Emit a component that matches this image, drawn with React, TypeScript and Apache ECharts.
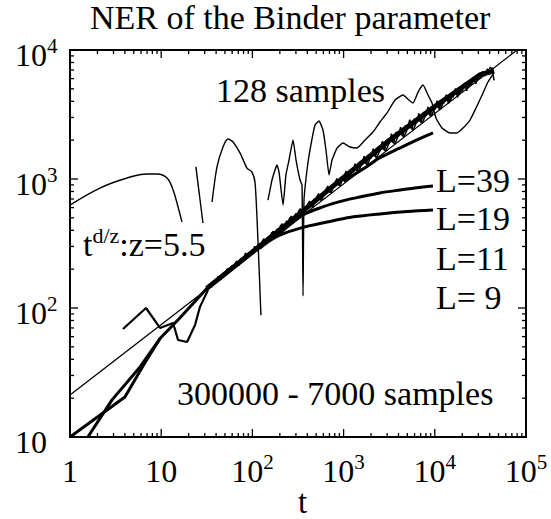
import React, { useEffect, useRef } from 'react';
import * as echarts from 'echarts';

const FONT = '"Liberation Serif", "Times New Roman", serif';

// ---- axes ----
const X_MIN = 1;
const X_MAX = 100000;
const Y_MIN = 10;
const Y_MAX = 10000;

const xTickValues = [1, 10, 100, 1000, 10000, 100000];
const xTickBase = ['1', '10', '10', '10', '10', '10'];
const xTickExp = ['', '', '2', '3', '4', '5'];
const yTickValues = [10, 100, 1000, 10000];
const yTickBase = ['10', '10', '10', '10'];
const yTickExp = ['', '2', '3', '4'];
const xAxisName = 't';

const xMinorTicks = [2, 3, 4, 5, 6, 7, 8, 9, 20, 30, 40, 50, 60, 70, 80, 90, 200, 300, 400, 500, 600, 700, 800, 900,
  2000, 3000, 4000, 5000, 6000, 7000, 8000, 9000, 20000, 30000, 40000, 50000, 60000, 70000, 80000, 90000];
const yMinorTicks = [20, 30, 40, 50, 60, 70, 80, 90, 200, 300, 400, 500, 600, 700, 800, 900,
  2000, 3000, 4000, 5000, 6000, 7000, 8000, 9000];

// ---- series data [t, value] ----
const powerLaw = [[1, 21.2], [100000, 11300]];

const thickLowA = [[1, 10], [4, 20.4], [6.6, 37.5], [9.7, 58], [16.1, 84], [31.8, 142]];
const thickLowB = [[1.57, 10], [2.89, 19.4], [5.86, 34.9], [9.7, 58]];
const zigzag = [[3.81, 68.7], [6.81, 100], [9.7, 70], [13.5, 76.6], [15.3, 56.5], [19.2, 54.5], [23.5, 73.8], [26.6, 102], [32.6, 138]];

const bandCore = [[31.6, 142], [100, 272], [316, 525], [1000, 1030], [3162, 1990], [10000, 3650], [31623, 6450], [44668, 6900]];

const bandNoise = [
  [31.6, 139], [33.5, 151], [35.5, 144], [37.6, 162], [39.8, 158], [42.2, 176], [44.7, 165], [47.3, 186], [50.1, 183], [53.1, 202],
  [56.2, 189], [59.6, 213], [63.1, 209], [66.8, 231], [70.8, 212], [75.0, 243], [79.4, 235], [84.1, 267], [89.1, 245], [94.4, 273],
  [100, 269], [106, 301], [112, 275], [119, 316], [126, 308], [133, 345], [141, 315], [150, 358], [158, 352], [168, 394],
  [178, 361], [188, 412], [200, 395], [211, 451], [224, 413], [237, 472], [251, 453], [266, 516], [282, 473], [299, 540],
  [316, 518], [335, 590], [355, 530], [376, 607], [398, 593], [422, 675], [447, 608], [473, 700], [501, 666], [531, 771],
  [562, 681], [596, 787], [631, 762], [668, 882], [708, 788], [750, 907], [794, 872], [841, 1008], [891, 885], [944, 1038],
  [1000, 979], [1059, 1152], [1122, 1013], [1189, 1186], [1259, 1120], [1334, 1316], [1413, 1160], [1496, 1357], [1585, 1282], [1679, 1504],
  [1778, 1302], [1884, 1550], [1995, 1441], [2113, 1720], [2239, 1491], [2371, 1773], [2512, 1648], [2661, 1966], [2818, 1674], [2985, 2026],
  [3162, 1885], [3350, 2247], [3548, 1916], [3758, 2316], [3981, 2118], [4217, 2526], [4467, 2152], [4732, 2605], [5012, 2423], [5309, 2887],
  [5623, 2463], [5957, 2929], [6310, 2723], [6683, 3221], [7079, 2740], [7499, 3293], [7943, 3059], [8414, 3623], [8913, 3075], [9441, 3672],
  [10000, 3436], [10593, 4042], [11220, 3453], [11885, 4092], [12589, 3858], [13335, 4507], [14125, 3837], [14962, 4559], [15849, 4292], [16788, 5024],
  [17783, 4306], [18836, 5078], [19953, 4773], [21135, 5552], [22387, 4833], [23714, 5655], [25119, 5358], [26607, 6131], [28184, 5480], [29854, 6354],
  [31623, 6014], [33497, 6827], [35481, 6276], [37584, 7137], [39811, 6478], [42170, 7317], [44668, 5809],
];

const bandNoise2 = [
  [103, 290], [115.5, 282], [130, 335], [145, 322], [163, 385], [183, 366], [205, 440], [230, 415], [259, 505], [290, 470],
  [325, 575], [365, 533], [410, 650], [460, 605], [516, 745], [579, 690], [649, 850], [729, 780], [818, 965], [917, 890],
  [1029, 1090], [1155, 1000], [1296, 1240], [1454, 1140], [1631, 1390], [1830, 1290], [2054, 1580], [2304, 1460], [2585, 1760], [2901, 1650],
  [3255, 2000], [3652, 1870], [4097, 2280], [4597, 2120], [5158, 2580], [5788, 2400], [6494, 2900], [7286, 2720], [8175, 3300], [9173, 3080],
  [10292, 3750], [11548, 3480], [12957, 4250], [14538, 3950], [16312, 4700], [18303, 4480], [20535, 5200], [23041, 5050], [25852, 5900], [29007, 5750],
  [32546, 6700], [36517, 6550], [40973, 7400],
];

const curveA = [[1000, 960], [1400, 1120], [1806, 1250], [2500, 1460], [4160, 1740], [6300, 2000], [9550, 2276]];
const curveL39 = [[200, 380], [359, 526], [600, 610], [1000, 680], [1514, 725], [2500, 780], [4160, 822], [6300, 855], [9550, 883]];
const curveL19 = [[120, 290], [156, 333], [200, 368], [350, 420], [657, 464], [1200, 505], [2500, 536], [5000, 560], [9550, 575]];

const s128a = [[1, 628], [2.13, 851], [4.22, 1018], [6.98, 1094], [9.0, 1094], [11.6, 1018], [13.5, 822], [15.3, 607], [16.9, 464]];
const s128b = [[24, 1240], [28.7, 456]];
const s128c = [[36.1, 663], [40.9, 1240], [47.6, 1770], [54, 2042], [61.3, 1936], [73.1, 1592], [87.2, 1216], [99, 1132], [107, 931], [115, 336], [124, 88]];
const s128d = [
  [148, 687], [156, 822], [164, 982], [177, 1175], [186, 1285], [196, 1132], [217, 628], [233, 1075], [252, 1403], [279, 2005],
  [301, 1403], [333, 982], [350, 898], [359, 124], [368, 687], [397, 1175], [428, 1679], [486, 2624], [537, 2818], [594, 2399],
  [641, 1679], [692, 1075], [747, 1403], [847, 1738], [985, 1901], [1175, 1770], [1403, 1738], [1718, 2005], [2100, 2312], [2507, 2768],
  [2993, 3251], [3664, 4093], [4480, 4480], [5210, 4093], [5770, 3883], [6550, 4722], [7430, 5357], [8420, 4480], [9320, 3883], [10300, 2974],
  [12000, 2483], [14700, 2273], [17500, 2273], [20400, 2483], [24300, 2864], [28300, 3550], [33000, 4480], [38300, 5650], [44600, 6640],
];

const titleText = 'NER of the Binder parameter';
const labels = [
  { text: '128 samples', x: 216, y: 90 },
  { text: 'L=39', x: 436, y: 180 },
  { text: 'L=19', x: 436, y: 218 },
  { text: 'L=11', x: 436, y: 258 },
  { text: 'L= 9', x: 436, y: 297 },
  { text: '300000 - 7000 samples', x: 177, y: 393 },
];

function labelFormatter(values: number[], bases: string[], exps: string[]) {
  return (v: number) => {
    const i = values.findIndex((t) => Math.abs(Math.log10(t) - Math.log10(v)) < 1e-6);
    if (i < 0) return '';
    return exps[i] ? `{b|${bases[i]}}{s|${exps[i]}}` : `{b|${bases[i]}}`;
  };
}

const richLabel = {
  b: { fontFamily: FONT, fontSize: 32, lineHeight: 40, color: '#000' },
  s: { fontFamily: FONT, fontSize: 21, lineHeight: 16, verticalAlign: 'top', color: '#000' },
};

function line(data: number[][], width: number, smooth: number | boolean = false, z = 3) {
  return {
    type: 'line',
    data,
    symbol: 'none',
    smooth,
    z,
    lineStyle: { color: '#000', width },
    silent: true,
  };
}

export default function App() {
  const ref = useRef<HTMLDivElement>(null);
  useEffect(() => {
    if (!ref.current) return;
    const chart = echarts.init(ref.current, null, { renderer: 'svg' });

    const tickData = [
      ...xTickValues.map((v) => [v, Y_MIN, 1, 0]),
      ...xMinorTicks.map((v) => [v, Y_MIN, 0, 0]),
      ...yTickValues.map((v) => [X_MIN, v, 1, 1]),
      ...yMinorTicks.map((v) => [X_MIN, v, 0, 1]),
    ];

    const tickStyle = { stroke: '#000', lineWidth: 1.3 };
    const annStyle = { fontFamily: FONT, fontSize: 34, lineHeight: 34, fontWeight: 'normal', color: '#000' };

    const option: any = {
      animation: false,
      backgroundColor: '#fff',
      title: [
        {
          text: titleText,
          left: 90,
          top: 0,
          padding: 0,
          textStyle: { fontFamily: FONT, fontSize: 34, lineHeight: 34, fontWeight: 'normal', color: '#000' },
        },
        ...labels.map((l) => ({
          text: l.text,
          left: l.x,
          top: l.y - 17,
          padding: 0,
          textStyle: annStyle,
        })),
        {
          text: '{a|t}{s|d/z}{a|:z=5.5}',
          left: 83,
          top: 224,
          padding: 0,
          textStyle: {
            fontFamily: FONT,
            fontSize: 34,
            fontWeight: 'normal',
            color: '#000',
            rich: {
              a: { fontFamily: FONT, fontSize: 34, fontWeight: 'normal', lineHeight: 40, color: '#000' },
              s: { fontFamily: FONT, fontSize: 22, fontWeight: 'normal', lineHeight: 14, verticalAlign: 'top', color: '#000' },
            },
          },
        },
        {
          text: xAxisName,
          left: 298,
          top: 488,
          padding: 0,
          textStyle: { fontFamily: FONT, fontSize: 33, lineHeight: 28, fontWeight: 'normal', color: '#000' },
        },
      ],
      grid: {
        left: 70,
        right: 25,
        top: 50,
        bottom: 82,
        containLabel: false,
        outerBoundsMode: 'none',
        show: true,
        borderColor: '#000',
        borderWidth: 2,
        backgroundColor: 'transparent',
      },
      xAxis: {
        type: 'log',
        logBase: 10,
        min: X_MIN,
        max: X_MAX,
        splitNumber: 5,
        axisLine: { show: false },
        axisTick: { show: false },
        splitLine: { show: false },
        minorTick: { show: false },
        axisLabel: {
          formatter: labelFormatter(xTickValues, xTickBase, xTickExp),
          rich: richLabel,
          margin: 14,
          showMinLabel: true,
          showMaxLabel: true,
          hideOverlap: false,
        },
      },
      yAxis: {
        type: 'log',
        logBase: 10,
        min: Y_MIN,
        max: Y_MAX,
        splitNumber: 3,
        axisLine: { show: false },
        axisTick: { show: false },
        splitLine: { show: false },
        minorTick: { show: false },
        axisLabel: {
          formatter: labelFormatter(yTickValues, yTickBase, yTickExp),
          rich: richLabel,
          margin: 55,
          align: 'left',
          padding: [10, 0, 0, 0],
          showMinLabel: true,
          showMaxLabel: true,
          hideOverlap: false,
        },
      },
      series: [
        {
          type: 'custom',
          data: tickData,
          silent: true,
          clip: false,
          z: 5,
          renderItem: (params: any, api: any) => {
            const v0 = api.value(0);
            const v1 = api.value(1);
            const major = api.value(2);
            const ax = api.value(3);
            const len = major ? 8 : 4;
            if (ax === 0) {
              const pb = api.coord([v0, Y_MIN]);
              const pt = api.coord([v0, Y_MAX]);
              return {
                type: 'group',
                children: [
                  { type: 'line', shape: { x1: pb[0], y1: pb[1], x2: pb[0], y2: pb[1] - len }, style: tickStyle },
                  { type: 'line', shape: { x1: pt[0], y1: pt[1], x2: pt[0], y2: pt[1] + len }, style: tickStyle },
                ],
              };
            }
            const pl = api.coord([X_MIN, v1]);
            const pr = api.coord([X_MAX, v1]);
            return {
              type: 'group',
              children: [
                { type: 'line', shape: { x1: pl[0], y1: pl[1], x2: pl[0] + len, y2: pl[1] }, style: tickStyle },
                { type: 'line', shape: { x1: pr[0], y1: pr[1], x2: pr[0] - len, y2: pr[1] }, style: tickStyle },
              ],
            };
          },
        },
        line(powerLaw, 1.3),
        line(thickLowA, 3),
        line(thickLowB, 3),
        line(zigzag, 2.2),
        line(bandCore, 5),
        line(bandNoise, 1.5),
        line(bandNoise2, 1.5),
        line(curveA, 3, 0.3),
        line(curveL39, 3, 0.3),
        line(curveL19, 3, 0.3),
        line(s128a, 1.4, 0.4),
        line(s128b, 1.4),
        line(s128c, 1.4, 0.25),
        line(s128d, 1.4, 0.15),
      ],
    };
    chart.setOption(option);
    return () => chart.dispose();
  }, []);

  return (
    <div
      ref={ref}
      style={{ position: 'absolute', left: 0, top: 0, width: 551, height: 519, background: '#fff' }}
    />
  );
}
